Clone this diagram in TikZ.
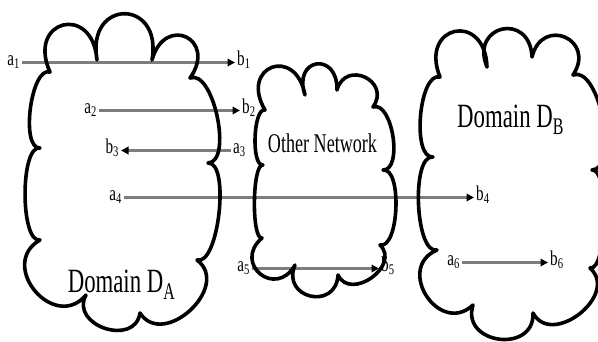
\documentclass[tikz,border=0pt]{standalone}
\usepackage{fontspec}
\usepackage{graphicx}
\setmainfont{Liberation Serif}
\usetikzlibrary{calc,arrows.meta}
\definecolor{flowgray}{RGB}{125,125,125}
\newcommand\sqz[2]{\scalebox{#1}[1]{#2}}
\newcommand\bmp[3]{.. controls ($(#1)!#3!100:(#2)$) and ($(#2)!#3!-100:(#1)$) .. (#2)}
\begin{document}
\begin{tikzpicture}[x=1pt,y=-1pt,
  lbl/.style={inner xsep=2pt,inner ysep=0pt,text height=9pt,text depth=4pt,
    font=\fontsize{21}{21}\selectfont},
  title/.style={anchor=base,inner sep=0pt},
  flow/.style={draw=flowgray,line width=2.6pt,
    -{Triangle[length=7.5pt,width=7.5pt,color=black]}},
  cloudline/.style={draw=black,line width=3.6pt,line join=round}]
\clip (0,0) rectangle (598,341);
\fill[white] (0,0) rectangle (598,341);

% labels
\node[lbl,anchor=east] (a1) at (22,62.5) {\sqz{0.72}{a\textsubscript{1}}};
\node[lbl,anchor=west] (b1) at (235,62.5) {\sqz{0.72}{b\textsubscript{1}}};
\node[lbl,anchor=east] (a2) at (99,110.5) {\sqz{0.72}{a\textsubscript{2}}};
\node[lbl,anchor=west] (b2) at (240,110.5) {\sqz{0.72}{b\textsubscript{2}}};
\node[lbl,anchor=west] (a3) at (231,150.5) {\sqz{0.72}{a\textsubscript{3}}};
\node[lbl,anchor=east] (b3) at (121,150.5) {\sqz{0.72}{b\textsubscript{3}}};
\node[lbl,anchor=east] (a4) at (124,197.5) {\sqz{0.72}{a\textsubscript{4}}};
\node[lbl,anchor=west] (b4) at (474,197.5) {\sqz{0.72}{b\textsubscript{4}}};
\node[lbl,anchor=east] (a5) at (252,268.5) {\sqz{0.72}{a\textsubscript{5}}};
\node[lbl,anchor=west] (b5) at (379,268.5) {\sqz{0.72}{b\textsubscript{5}}};
\node[lbl,anchor=east] (a6) at (462,262.5) {\sqz{0.72}{a\textsubscript{6}}};
\node[lbl,anchor=west] (b6) at (548,262.5) {\sqz{0.72}{b\textsubscript{6}}};

\node[title,font=\fontsize{34}{34}\selectfont] (dA) at (121.5,292) {\sqz{0.67}{Domain D\textsubscript{A}}};
\node[title,font=\fontsize{34}{34}\selectfont] (dB) at (510.5,127) {\sqz{0.67}{Domain D\textsubscript{B}}};
\node[title,font=\fontsize{27}{27}\selectfont] (on) at (322.5,152) {\sqz{0.67}{Other Network}};

% connectors
\draw[flow] (a1) -- (b1);
\draw[flow] (a2) -- (b2);
\draw[flow] (a3) -- (b3);
\draw[flow] (a4) -- (b4);
\draw[flow] (a5) -- (b5);
\draw[flow] (a6) -- (b6);

% cloud A
\coordinate (A1) at (50,72);
\coordinate (A2) at (97,60);
\coordinate (A3) at (152,60);
\coordinate (A4) at (190,78);
\coordinate (A5) at (208,163);
\coordinate (A6) at (197,260);
\coordinate (A7) at (140,313);
\coordinate (A8) at (86,295);
\coordinate (A9) at (40,240);
\coordinate (A10) at (40,148);
\draw[cloudline] (A1) \bmp{A1}{A2}{1.18} \bmp{A2}{A3}{1.14} \bmp{A3}{A4}{1.14}
  \bmp{A4}{A5}{0.29} \bmp{A5}{A6}{0.23} \bmp{A6}{A7}{0.56} \bmp{A7}{A8}{0.61}
  \bmp{A8}{A9}{0.69} \bmp{A9}{A10}{0.22} \bmp{A10}{A1}{0.26} -- cycle;

% cloud B
\coordinate (W1) at (265,110);
\coordinate (W2) at (305,95);
\coordinate (W3) at (337,90);
\coordinate (W4) at (373,107);
\coordinate (W5) at (383,170);
\coordinate (W6) at (380,245);
\coordinate (W7) at (338,275);
\coordinate (W8) at (295,265);
\coordinate (W9) at (262,238);
\coordinate (W10) at (263,165);
\draw[cloudline] (W1) \bmp{W1}{W2}{1.19} \bmp{W2}{W3}{1.21} \bmp{W3}{W4}{0.8}
  \bmp{W4}{W5}{0.32} \bmp{W5}{W6}{0.26} \bmp{W6}{W7}{0.57} \bmp{W7}{W8}{0.82}
  \bmp{W8}{W9}{0.92} \bmp{W9}{W10}{0.15} \bmp{W10}{W1}{0.22} -- cycle;

% cloud C
\coordinate (X1) at (440,77);
\coordinate (X2) at (487,67);
\coordinate (X3) at (532,57);
\coordinate (X4) at (573,75);
\coordinate (X5) at (592,170);
\coordinate (X6) at (590,268);
\coordinate (X7) at (533,313);
\coordinate (X8) at (473,305);
\coordinate (X9) at (437,250);
\coordinate (X10) at (433,157);
\draw[cloudline] (X1) \bmp{X1}{X2}{1.17} \bmp{X2}{X3}{0.99} \bmp{X3}{X4}{0.95}
  \bmp{X4}{X5}{0.29} \bmp{X5}{X6}{0.18} \bmp{X6}{X7}{0.55} \bmp{X7}{X8}{0.68}
  \bmp{X8}{X9}{0.7} \bmp{X9}{X10}{0.24} \bmp{X10}{X1}{0.27} -- cycle;
\end{tikzpicture}
\end{document}
